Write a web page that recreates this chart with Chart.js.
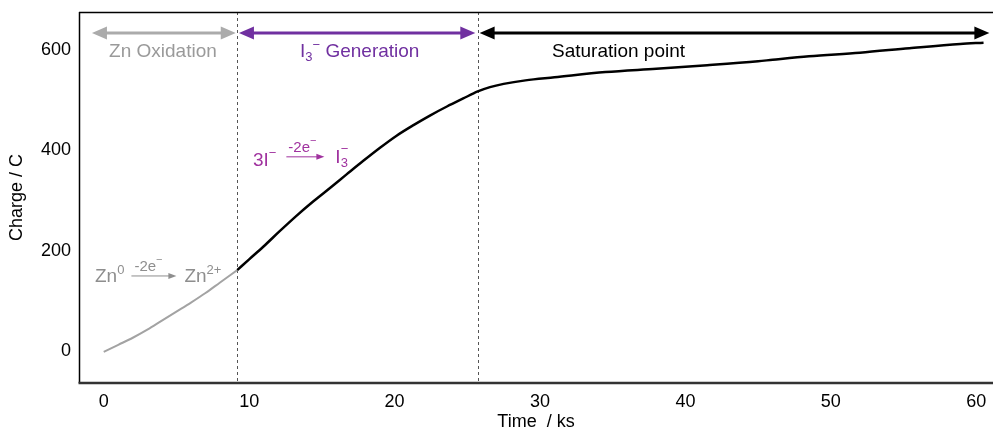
<!DOCTYPE html>
<html>
<head>
<meta charset="utf-8">
<script src="https://cdn.jsdelivr.net/npm/chart.js@4.4.0/dist/chart.umd.min.js"></script>
<style>
  html, body { margin: 0; padding: 0; background: #fff; }
</style>
</head>
<body>
<canvas id="myChart" width="993" height="430"></canvas>
<script>
// values: time in ks, charge in C
const znTime   = [0, 1, 2, 3, 4, 5, 6, 7, 8, 9.18];
const znCharge = [-1, 13, 27, 43, 61, 79, 97, 116, 137, 161.5];
const iTime   = [9.18, 10, 10.97, 12.1, 13.27, 14.4, 15.56, 16.7, 17.85, 19, 20.14, 21.3, 22.43, 23.6, 24.72, 25.72,
                 26.56, 27.5, 29, 31, 34.5, 38, 41.5, 45, 46, 48.5, 52, 55.4, 58.9, 60.5];
const iCharge = [161.5, 183, 208, 239, 270, 298, 325, 352, 379, 405, 429, 450, 469, 487, 503, 517,
                 525.6, 532, 539, 545, 555.5, 562, 569, 577, 580, 587, 594, 603, 611.5, 614];
const xTicks = [0, 10, 20, 30, 40, 50, 60];
const yTicks = [0, 200, 400, 600];
// boundaries between the three phases (ks)
const phaseBounds = [9.18, 25.72];

const FONT = '"Liberation Sans", Arial, Helvetica, sans-serif';
const GREY = '#a3a3a3';
const PURPLE = '#7030a0';
const MAGENTA = '#a0329f';

function pairs(xs, ys) {
  return xs.map((x, i) => ({ x: x, y: ys[i] }));
}

// writes a run of text pieces [text, size, dy, noAdvance] one after another
function rich(ctx, x, y, parts, color) {
  ctx.save();
  ctx.fillStyle = color;
  ctx.textAlign = 'left';
  ctx.textBaseline = 'alphabetic';
  for (const p of parts) {
    ctx.font = p[1] + 'px ' + FONT;
    ctx.fillText(p[0], x, y + p[2]);
    if (!p[3]) x += ctx.measureText(p[0]).width;
  }
  ctx.restore();
  return x;
}

function arrow(ctx, x1, x2, y, color, w, hl, hh) {
  ctx.save();
  ctx.strokeStyle = color;
  ctx.fillStyle = color;
  ctx.lineWidth = w;
  ctx.beginPath();
  ctx.moveTo(x1 + hl - 1, y);
  ctx.lineTo(x2 - hl + 1, y);
  ctx.stroke();
  ctx.beginPath();
  ctx.moveTo(x1, y); ctx.lineTo(x1 + hl, y - hh); ctx.lineTo(x1 + hl, y + hh); ctx.closePath();
  ctx.fill();
  ctx.beginPath();
  ctx.moveTo(x2, y); ctx.lineTo(x2 - hl, y - hh); ctx.lineTo(x2 - hl, y + hh); ctx.closePath();
  ctx.fill();
  ctx.restore();
}

function rightArrow(ctx, x1, x2, y, color) {
  ctx.save();
  ctx.strokeStyle = color;
  ctx.fillStyle = color;
  ctx.lineWidth = 1;
  ctx.beginPath();
  ctx.moveTo(x1, y); ctx.lineTo(x2 - 6, y);
  ctx.stroke();
  ctx.beginPath();
  ctx.moveTo(x2, y); ctx.lineTo(x2 - 8, y - 3); ctx.lineTo(x2 - 8, y + 3); ctx.closePath();
  ctx.fill();
  ctx.restore();
}

const framePlugin = {
  id: 'frame',
  beforeDatasetsDraw(chart) {
    const ctx = chart.ctx;
    const a = chart.chartArea;
    const xs = chart.scales.x;
    ctx.save();
    // dashed phase lines
    ctx.strokeStyle = '#555';
    ctx.lineWidth = 1;
    ctx.setLineDash([3, 3]);
    phaseBounds.forEach(b => {
      const px = Math.round(xs.getPixelForValue(b)) + 0.5;
      ctx.beginPath();
      ctx.moveTo(px, a.top);
      ctx.lineTo(px, a.bottom);
      ctx.stroke();
    });
    ctx.setLineDash([]);
    // top border
    ctx.strokeStyle = '#000';
    ctx.lineWidth = 1.5;
    ctx.beginPath();
    ctx.moveTo(a.left, a.top + 0.5);
    ctx.lineTo(a.right, a.top + 0.5);
    ctx.stroke();
    // left axis
    ctx.beginPath();
    ctx.moveTo(a.left + 0.5, a.top);
    ctx.lineTo(a.left + 0.5, a.bottom);
    ctx.stroke();
    // bottom axis
    ctx.strokeStyle = '#333';
    ctx.lineWidth = 2.5;
    ctx.beginPath();
    ctx.moveTo(a.left - 0.5, a.bottom);
    ctx.lineTo(a.right, a.bottom);
    ctx.stroke();
    ctx.restore();
  },
  afterDraw(chart) {
    const ctx = chart.ctx;
    const xs = chart.scales.x, ys = chart.scales.y;
    const X = v => xs.getPixelForValue(v);
    const Y = v => ys.getPixelForValue(v);

    // phase arrows across the top
    const ay = Y(633);
    arrow(ctx, X(-0.81), X(9.08), ay, '#ababab', 3, 15, 6.5);
    arrow(ctx, X(9.3), X(25.55), ay, PURPLE, 3, 15, 6.5);
    arrow(ctx, X(25.85), X(60.9), ay, '#000', 3, 15, 6.5);

    // phase names
    const ly = Y(600) + 7;
    ctx.save();
    ctx.font = '19px ' + FONT;
    ctx.textAlign = 'center';
    ctx.textBaseline = 'alphabetic';
    ctx.fillStyle = '#9a9a9a';
    ctx.fillText('Zn Oxidation', X(4.07), ly);
    ctx.fillStyle = '#000';
    ctx.fillText('Saturation point', X(35.4), ly);
    ctx.restore();
    rich(ctx, X(13.5), ly, [['I', 19, 0], ['3', 13, 4], ['\u2212', 13, -8], [' Generation', 19, 0]], PURPLE);

    // Zn0 -> Zn2+
    const gx = X(-0.6), gy = Y(138);
    let e = rich(ctx, gx, gy, [['Zn', 19, 0], ['0', 13, -8]], '#8e8e8e');
    rightArrow(ctx, e + 7, e + 52, gy - 6, '#8e8e8e');
    const t2 = rich(ctx, e + 10, gy - 11, [['-2e', 15, 0]], '#8e8e8e');
    rich(ctx, t2, gy - 11, [['\u2212', 11, -8]], '#8e8e8e');
    rich(ctx, e + 60, gy, [['Zn', 19, 0], ['2+', 13, -8]], '#8e8e8e');

    // 3I- -> I3-
    const mx = X(10.26), my = Y(369);
    e = rich(ctx, mx, my, [['3I', 19, 0], ['\u2212', 13, -9]], MAGENTA);
    rightArrow(ctx, e + 10, e + 48, my - 9, MAGENTA);
    const t3 = rich(ctx, e + 12, my - 14, [['-2e', 15, 0]], MAGENTA);
    rich(ctx, t3, my - 14, [['\u2212', 11, -8]], MAGENTA);
    rich(ctx, e + 59, my - 3, [['I', 19, 0], ['3', 13, 4, true], ['\u2212', 13, -10]], MAGENTA);
  }
};

const data = {
  datasets: [{
    label: 'Zn oxidation',
    data: pairs(znTime, znCharge),
    borderColor: GREY,
    borderWidth: 2,
    pointRadius: 0,
    cubicInterpolationMode: 'monotone'
  }, {
    label: 'I3- generation',
    data: pairs(iTime, iCharge),
    borderColor: '#000',
    borderWidth: 2.5,
    pointRadius: 0,
    cubicInterpolationMode: 'monotone'
  }]
};

const config = {
  type: 'line',
  data: data,
  options: {
    responsive: false,
    animation: false,
    layout: { padding: { top: 12, left: 0, right: 0, bottom: 0 } },
    plugins: { legend: { display: false }, tooltip: { enabled: false } },
    scales: {
      x: {
        type: 'linear',
        min: -1.7,
        max: 61.15,
        afterFit: s => { s.height = 47; s.paddingLeft = 0; s.paddingRight = 0; },
        afterBuildTicks: s => { s.ticks = xTicks.map(v => ({ value: v })); },
        grid: { display: false, drawTicks: false },
        border: { display: false },
        ticks: { color: '#000', padding: 8, maxRotation: 0, font: { family: FONT, size: 18 } },
        title: { display: true, text: 'Time  / ks', color: '#000', padding: 0, font: { family: FONT, size: 18, lineHeight: 0.9 } }
      },
      y: {
        min: -63,
        max: 675,
        afterFit: s => { s.width = 79; s.paddingTop = 0; s.paddingBottom = 0; },
        afterBuildTicks: s => { s.ticks = yTicks.map(v => ({ value: v })); },
        grid: { display: false, drawTicks: false },
        border: { display: false },
        ticks: { color: '#000', padding: 8, font: { family: FONT, size: 18 } },
        title: { display: true, text: 'Charge / C', color: '#000', padding: { top: 6, bottom: 0 }, font: { family: FONT, size: 18 } }
      }
    }
  },
  plugins: [framePlugin]
};

const ctx = document.getElementById('myChart').getContext('2d');
const myChart = new Chart(ctx, config);
</script>
</body>
</html>
